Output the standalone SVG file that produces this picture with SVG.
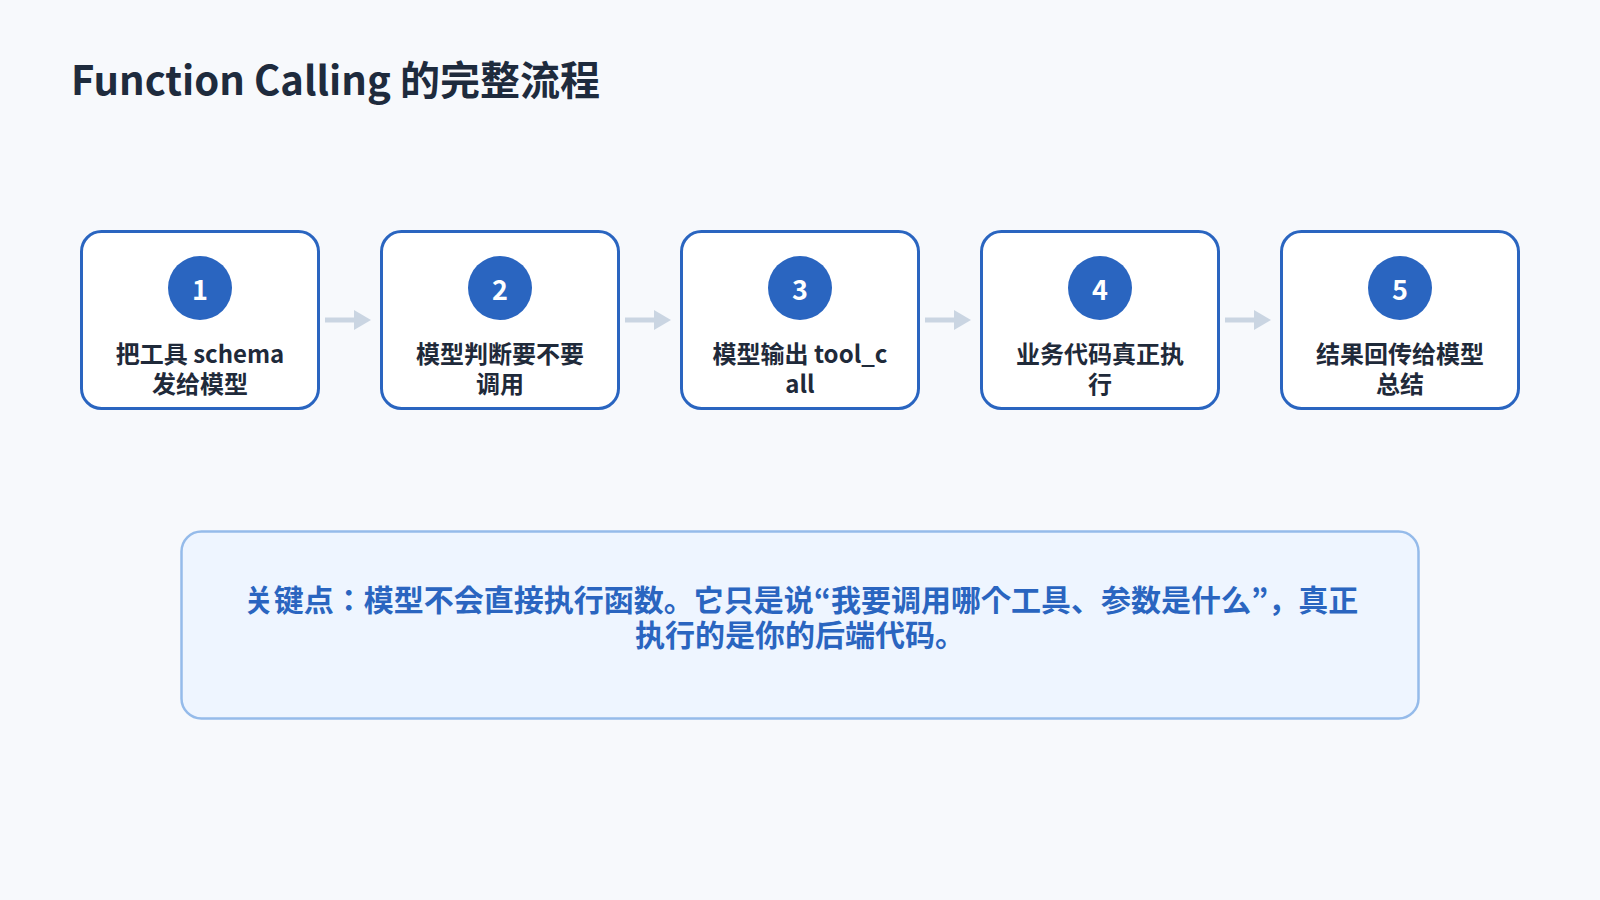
<svg xmlns="http://www.w3.org/2000/svg" width="1600" height="900" viewBox="0 0 1600 900">
<defs>
<style>
.bg{fill:#f7f9fc}
.card{fill:#ffffff;stroke:#2a65c0;stroke-width:3}
.badge{fill:#2a65c0}
.num{font-family:"Noto Sans CJK SC","Noto Sans",sans-serif;font-weight:700;font-size:27px;fill:#ffffff;text-anchor:middle}
.lbl{font-family:"Noto Sans CJK SC","Noto Sans",sans-serif;font-weight:700;font-size:24px;fill:#1f2a3a;text-anchor:middle}
.title{font-family:"Noto Sans CJK SC","Noto Sans",sans-serif;font-weight:700;font-size:40px;fill:#1e2b3d}
.note{fill:#eef5ff;stroke:#95bbea;stroke-width:2.5}
.notetxt{font-family:"Noto Sans CJK JP","Noto Sans CJK SC",sans-serif;font-weight:700;font-size:30px;fill:#2a65c0;text-anchor:middle}
.conn{stroke:#cad5e2;stroke-width:5;fill:none}
.head{fill:#cad5e2}
</style>
</defs>
<rect class="bg" x="0" y="0" width="1600" height="900"/>
<text class="title" x="71" y="95">Function Calling 的完整流程</text>

<g id="connectors">
<line class="conn" x1="325" y1="320" x2="356" y2="320"/><polygon class="head" points="354,310 371,320 354,330"/>
<line class="conn" x1="625" y1="320" x2="656" y2="320"/><polygon class="head" points="654,310 671,320 654,330"/>
<line class="conn" x1="925" y1="320" x2="956" y2="320"/><polygon class="head" points="954,310 971,320 954,330"/>
<line class="conn" x1="1225" y1="320" x2="1256" y2="320"/><polygon class="head" points="1254,310 1271,320 1254,330"/>
</g>

<g id="step1">
<rect class="card" x="81.5" y="231.5" width="237" height="177" rx="20"/>
<circle class="badge" cx="200" cy="288" r="32"/>
<text class="num" x="200" y="300">1</text>
<text class="lbl" x="200" y="363">把工具 schema</text>
<text class="lbl" x="200" y="393">发给模型</text>
</g>
<g id="step2">
<rect class="card" x="381.5" y="231.5" width="237" height="177" rx="20"/>
<circle class="badge" cx="500" cy="288" r="32"/>
<text class="num" x="500" y="300">2</text>
<text class="lbl" x="500" y="363">模型判断要不要</text>
<text class="lbl" x="500" y="393">调用</text>
</g>
<g id="step3">
<rect class="card" x="681.5" y="231.5" width="237" height="177" rx="20"/>
<circle class="badge" cx="800" cy="288" r="32"/>
<text class="num" x="800" y="300">3</text>
<text class="lbl" x="800" y="363">模型输出 tool_c</text>
<text class="lbl" x="800" y="393">all</text>
</g>
<g id="step4">
<rect class="card" x="981.5" y="231.5" width="237" height="177" rx="20"/>
<circle class="badge" cx="1100" cy="288" r="32"/>
<text class="num" x="1100" y="300">4</text>
<text class="lbl" x="1100" y="363">业务代码真正执</text>
<text class="lbl" x="1100" y="393">行</text>
</g>
<g id="step5">
<rect class="card" x="1281.5" y="231.5" width="237" height="177" rx="20"/>
<circle class="badge" cx="1400" cy="288" r="32"/>
<text class="num" x="1400" y="300">5</text>
<text class="lbl" x="1400" y="363">结果回传给模型</text>
<text class="lbl" x="1400" y="393">总结</text>
</g>

<g id="keypoint">
<rect class="note" x="181.5" y="531.5" width="1237" height="187" rx="20"/>
<text class="notetxt" x="801" y="611">关键点：模型不会直接执行函数。它只是说“我要调用哪个工具、参数是什么”，真正</text>
<text class="notetxt" x="800" y="646">执行的是你的后端代码。</text>
</g>
</svg>
